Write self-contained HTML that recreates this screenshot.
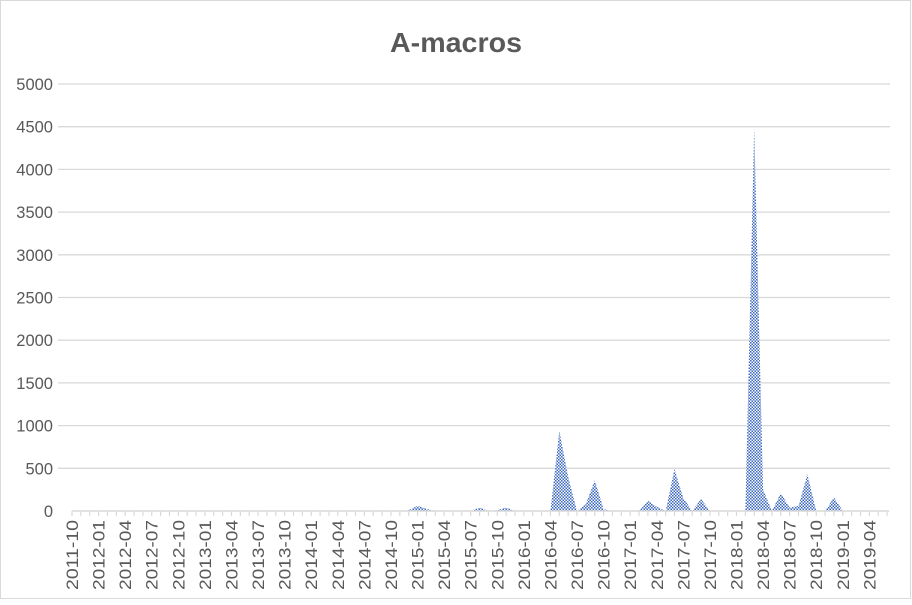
<!DOCTYPE html>
<html><head><meta charset="utf-8"><style>
body{margin:0;background:#fff;font-family:"Liberation Sans",sans-serif}
</style></head><body>
<svg id="chart" width="912" height="600" xmlns="http://www.w3.org/2000/svg">
<defs><pattern id="chk" width="3" height="3" patternUnits="userSpaceOnUse"><rect width="3" height="3" fill="#fff"/><rect width="1.5" height="1.5" fill="#3a66c0"/><rect x="1.5" y="1.5" width="1.5" height="1.5" fill="#3a66c0"/></pattern></defs>
<rect x="0.5" y="0.5" width="910" height="598" fill="#fff" stroke="#d9d9d9"/>
<text x="456" y="52" text-anchor="middle" font-size="28" font-weight="bold" fill="#595959" textLength="132" lengthAdjust="spacingAndGlyphs">A-macros</text>
<g id="grid"></g><g id="area"></g><g id="axis"></g>
</svg>
<script>
const startYear=2011, startMonth=10, nMonths=93;
const peakMonths=["2014-12","2015-01","2015-02","2015-08","2015-10","2015-11","2016-05","2016-06","2016-08","2016-09","2016-10","2017-03","2017-04","2017-06","2017-07","2017-09","2018-03","2018-04","2018-06","2018-07","2018-08","2018-09","2018-12"];
const peakValues=[10,60,25,40,10,40,940,400,80,360,20,120,50,490,150,140,4490,250,210,40,60,430,160];
const yTicks=[0,500,1000,1500,2000,2500,3000,3500,4000,4500,5000];
const X0=72, STEP=8.86, Y0=511, YMAX=5000, YTOP=84;
const ns="http://www.w3.org/2000/svg";
const xs=i=>X0+i*STEP, ys=v=>Y0-(v/YMAX)*(Y0-YTOP);
const months=[];for(let i=0;i<nMonths;i++){const t=startYear*12+startMonth-1+i;months.push(Math.floor(t/12)+"-"+String(t%12+1).padStart(2,"0"));}
const vals=months.map(m=>{const k=peakMonths.indexOf(m);return k<0?0:peakValues[k];});
function mk(tag,a,p){const e=document.createElementNS(ns,tag);for(const k in a)e.setAttribute(k,a[k]);p.appendChild(e);return e;}
const grid=document.getElementById("grid"),axis=document.getElementById("axis"),area=document.getElementById("area");
yTicks.forEach(v=>{
 if(v>0){const l=mk("line",{x1:58,x2:890,y1:ys(v),y2:ys(v),stroke:"#d9d9d9","stroke-width":1.3},grid);
 
 }
 const t=mk("text",{x:53,y:ys(v)+6,"text-anchor":"end","font-size":16.5,fill:"#595959"},axis);t.textContent=v;
 
 
});
let d="M"+xs(0)+","+Y0;vals.forEach((v,i)=>d+=" L"+xs(i)+","+ys(v));d+=" L"+xs(nMonths-1)+","+Y0+"Z";
const p=mk("path",{d:d,fill:"url(#chk)",stroke:"none"},area);


const ax=mk("line",{x1:xs(0),x2:xs(nMonths-1)+2,y1:Y0,y2:Y0,stroke:"#d9d9d9","stroke-width":1.5},axis);


months.forEach((m,i)=>{
 const tk=mk("line",{x1:xs(i),x2:xs(i),y1:Y0,y2:Y0+5,stroke:"#d9d9d9","stroke-width":1.2},axis);
 
 
 if(i%3===0){const t=mk("text",{x:0,y:0,"text-anchor":"end","font-size":17,fill:"#595959",textLength:70,lengthAdjust:"spacingAndGlyphs",transform:`translate(${xs(i)+6},${Y0+9}) rotate(-90)`},axis);t.textContent=m;
 
 }
});
</script>
</body></html>
